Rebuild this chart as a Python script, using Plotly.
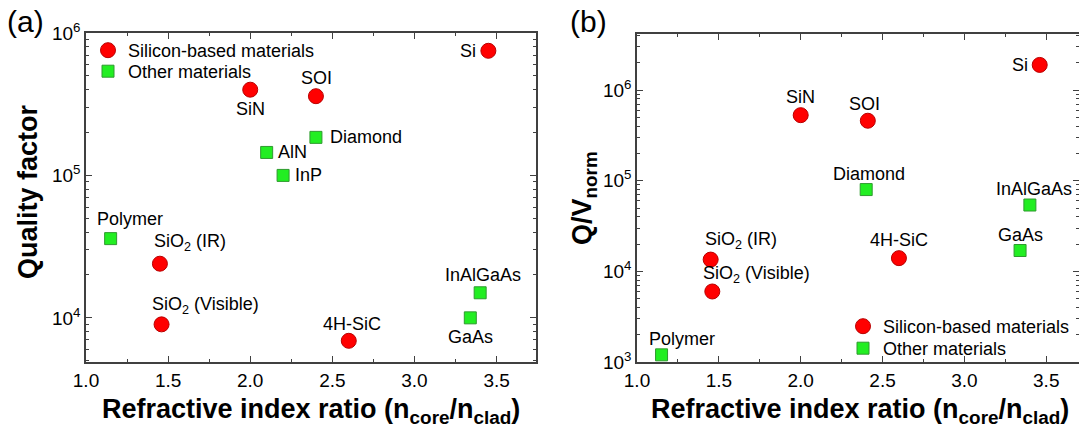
import numpy as np
import plotly.graph_objects as go

# ---------------- data ----------------
# Panel (a): quality factor
si_labels_a = ["Si", "SiN", "SOI", "SiO<sub>2</sub> (IR)", "SiO<sub>2</sub> (Visible)", "4H-SiC"]
si_ratio_a = [3.45, 2.0, 2.4, 1.45, 1.46, 2.6]
si_q_a = [7.5e5, 4.0e5, 3.6e5, 2.4e4, 9.0e3, 6.9e3]

ot_labels_a = ["Diamond", "AlN", "InP", "Polymer", "InAlGaAs", "GaAs"]
ot_ratio_a = [2.4, 2.1, 2.2, 1.15, 3.4, 3.34]
ot_q_a = [1.85e5, 1.45e5, 1.0e5, 3.6e4, 1.5e4, 1.0e4]

# Panel (b): Q / V_norm
si_labels_b = ["Si", "SiN", "SOI", "SiO<sub>2</sub> (IR)", "SiO<sub>2</sub> (Visible)", "4H-SiC"]
si_ratio_b = [3.46, 2.0, 2.41, 1.45, 1.46, 2.6]
si_qv_b = [1.9e6, 5.3e5, 4.6e5, 1.35e4, 6.0e3, 1.4e4]

ot_labels_b = ["Diamond", "InAlGaAs", "GaAs", "Polymer"]
ot_ratio_b = [2.4, 3.4, 3.34, 1.15]
ot_qv_b = [8.0e4, 5.4e4, 1.7e4, 1.2e3]

x_ticks = [1.0, 1.5, 2.0, 2.5, 3.0, 3.5]
x_ticktext = ["1.0", "1.5", "2.0", "2.5", "3.0", "3.5"]
legend_names = ["Silicon-based materials", "Other materials"]

# ---------------- styles ----------------
FONT = "Arial, Liberation Sans, sans-serif"
RED, RED_EDGE = "#ff0000", "#b80000"
GREEN, GREEN_EDGE = "#22ee22", "#2f9a2f"
W, H = 1079, 430

# label placement (xanchor, xshift, yshift) keyed by label
place_a = {
    "Si": ("right", -10, 0), "SiN": ("center", 0, -19), "SOI": ("center", 1, 18),
    "SiO<sub>2</sub> (IR)": ("center", 30, 21), "SiO<sub>2</sub> (Visible)": ("center", 44, 19),
    "4H-SiC": ("center", 3, 17), "Diamond": ("left", 12, 0), "AlN": ("left", 9, 0),
    "InP": ("left", 10, 0), "Polymer": ("center", 19, 20), "InAlGaAs": ("center", 3, 18),
    "GaAs": ("center", 0, -19),
}
place_b = {
    "Si": ("right", -10, 0), "SiN": ("center", 0, 18), "SOI": ("center", -3, 17),
    "SiO<sub>2</sub> (IR)": ("center", 30, 19), "SiO<sub>2</sub> (Visible)": ("center", 44, 17),
    "4H-SiC": ("center", 0, 18), "Diamond": ("center", 3, 16), "InAlGaAs": ("center", 4, 16),
    "GaAs": ("center", 0, 16), "Polymer": ("center", 20, 16),
}

fig = go.Figure()

def add_pair(xs, ys, xs2, ys2, xa, ya, leg1, leg2):
    fig.add_trace(go.Scatter(
        x=xs, y=ys, mode="markers", name=legend_names[0], xaxis=xa, yaxis=ya,
        legend=leg1, showlegend=True,
        marker=dict(symbol="circle", size=15, color=RED, line=dict(color=RED_EDGE, width=1)),
    ))
    fig.add_trace(go.Scatter(
        x=xs2, y=ys2, mode="markers", name=legend_names[1], xaxis=xa, yaxis=ya,
        legend=leg2, showlegend=True,
        marker=dict(symbol="square", size=12, color=GREEN, line=dict(color=GREEN_EDGE, width=1)),
    ))

add_pair(si_ratio_a, si_q_a, ot_ratio_a, ot_q_a, "x", "y", "legend", "legend3")
add_pair(si_ratio_b, si_qv_b, ot_ratio_b, ot_qv_b, "x2", "y2", "legend2", "legend4")

annotations = []
def add_labels(labels, xs, ys, place, xref, yref):
    for lab, xv, yv in zip(labels, xs, ys):
        xa, dx, dy = place[lab]
        annotations.append(dict(
            x=xv, y=np.log10(yv), xref=xref, yref=yref, text=lab, showarrow=False,
            xanchor=xa, yanchor="middle", xshift=dx, yshift=dy,
            font=dict(family=FONT, size=18, color="black"),
        ))

add_labels(si_labels_a, si_ratio_a, si_q_a, place_a, "x", "y")
add_labels(ot_labels_a, ot_ratio_a, ot_q_a, place_a, "x", "y")
add_labels(si_labels_b, si_ratio_b, si_qv_b, place_b, "x2", "y2")
add_labels(ot_labels_b, ot_ratio_b, ot_qv_b, place_b, "x2", "y2")

# titles and panel letters
title_font = dict(family=FONT, size=27, color="black", weight="bold")
annotations += [
    dict(text="Refractive index ratio (n<sub>core</sub>/n<sub>clad</sub>)", x=311 / W, y=1 - 411 / H,
         xref="paper", yref="paper", showarrow=False, xanchor="center", yanchor="middle", font=title_font),
    dict(text="Refractive index ratio (n<sub>core</sub>/n<sub>clad</sub>)", x=860 / W, y=1 - 411 / H,
         xref="paper", yref="paper", showarrow=False, xanchor="center", yanchor="middle", font=title_font),
    dict(text="Quality factor", x=28 / W, y=1 - 192 / H, textangle=-90,
         xref="paper", yref="paper", showarrow=False, xanchor="center", yanchor="middle", font=title_font),
    dict(text="Q/V<sub>norm</sub>", x=584 / W, y=1 - 198 / H, textangle=-90,
         xref="paper", yref="paper", showarrow=False, xanchor="center", yanchor="middle", font=title_font),
    dict(text="(a)", x=25 / W, y=1 - 22 / H, xref="paper", yref="paper", showarrow=False,
         xanchor="center", yanchor="middle", font=dict(family=FONT, size=30, color="black")),
    dict(text="(b)", x=588 / W, y=1 - 22 / H, xref="paper", yref="paper", showarrow=False,
         xanchor="center", yanchor="middle", font=dict(family=FONT, size=30, color="black")),
]

tick_font = dict(family=FONT, size=19, color="black")
axis_common = dict(showline=True, linecolor="#404040", linewidth=1.5, mirror="ticks",
                   ticks="inside", ticklen=6, tickwidth=1.2, tickcolor="#404040",
                   showgrid=False, zeroline=False, tickfont=tick_font, automargin=False)

minor_log_a = [m * 10 ** e for e in range(3, 6) for m in range(2, 10)]
minor_log_b = [m * 10 ** e for e in range(3, 7) for m in range(2, 10)]

leg_font = dict(family=FONT, size=18, color="black")
def leg(x_px, top_px):
    return dict(x=x_px / W, y=1 - top_px / H, xanchor="left", yanchor="top",
                bgcolor="rgba(0,0,0,0)", font=leg_font, tracegroupgap=0)

fig.update_layout(
    width=W, height=H, margin=dict(l=0, r=0, t=0, b=0, autoexpand=False),
    paper_bgcolor="white", plot_bgcolor="white",
    annotations=annotations,
    xaxis=dict(domain=[86 / W, 536 / W], range=[1.0, 3.74], tickvals=x_ticks, ticktext=x_ticktext,
               anchor="y", ticklabelstandoff=0,
               minor=dict(ticks="inside", ticklen=3, dtick=0.25, tick0=1.0, tickcolor="#404040"),
               **axis_common),
    yaxis=dict(domain=[1 - 362 / H, 1 - 33 / H], type="log", range=[3.69, 6.0],
               tickvals=[1e4, 1e5, 1e6], ticktext=["10<sup>4</sup>", "10<sup>5</sup>", "10<sup>6</sup>"],
               anchor="x",
               minor=dict(ticks="inside", ticklen=3, tickvals=minor_log_a, tickcolor="#404040"),
               **axis_common),
    xaxis2=dict(domain=[637 / W, 1.0], range=[1.0, 3.7], tickvals=x_ticks, ticktext=x_ticktext,
                anchor="y2", ticklabelstandoff=0,
                minor=dict(ticks="inside", ticklen=3, dtick=0.25, tick0=1.0, tickcolor="#404040"),
                **axis_common),
    yaxis2=dict(domain=[1 - 362 / H, 1 - 34 / H], type="log", range=[3.0, 6.62],
                tickvals=[1e3, 1e4, 1e5, 1e6],
                ticktext=["10<sup>3</sup>", "10<sup>4</sup>", "10<sup>5</sup>", "10<sup>6</sup>"],
                anchor="x2",
                minor=dict(ticks="inside", ticklen=3, tickvals=minor_log_b, tickcolor="#404040"),
                **axis_common),
    legend=leg(88, 32),
    legend3=leg(88, 53),
    legend2=leg(843, 308),
    legend4=leg(843, 330),
    showlegend=True,
)

fig.write_html("out.html", config={"displayModeBar": False},
               post_script="document.body.style.margin='0';")
